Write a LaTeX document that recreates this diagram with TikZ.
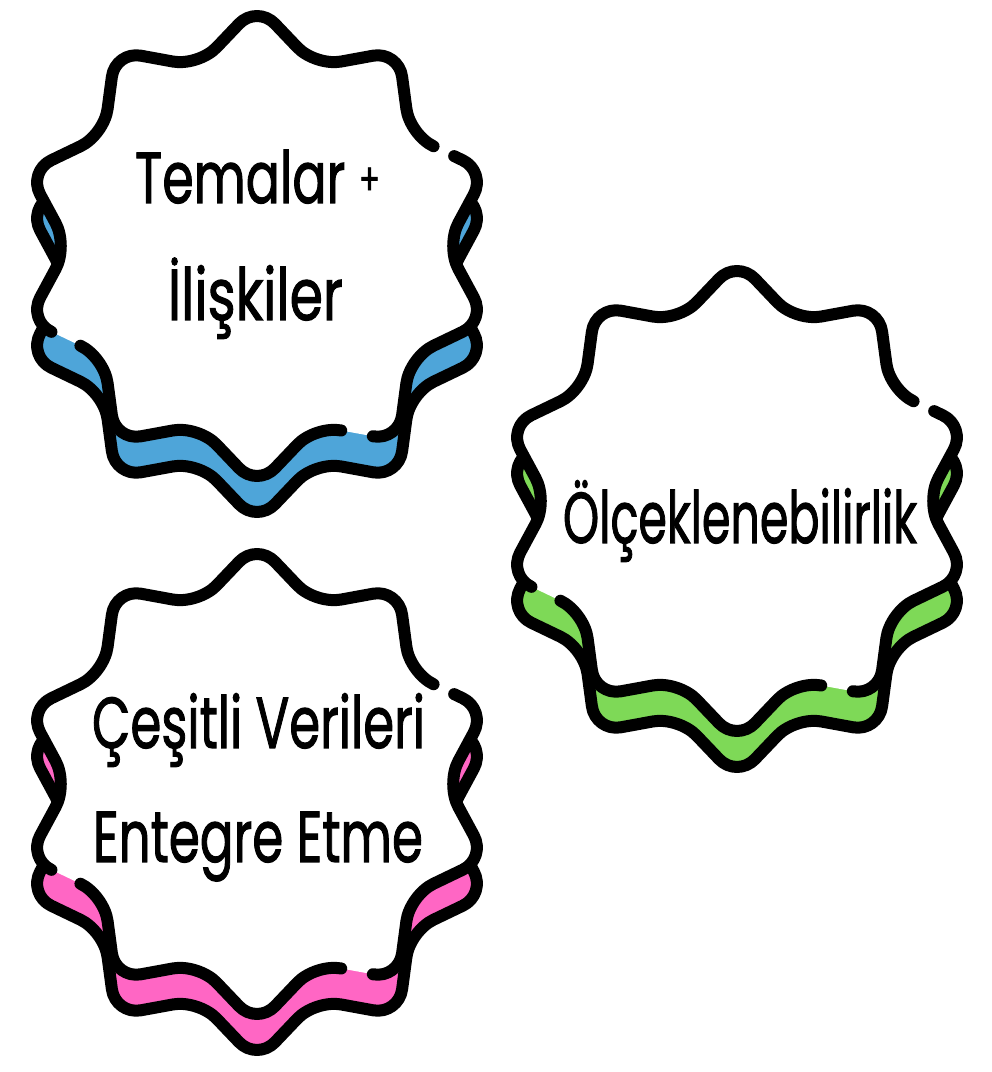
\documentclass[tikz,border=0pt]{standalone}
\usepackage{fontspec}
\usepackage{graphicx}
\setmainfont{Poppins}
\newfontfamily\lblfont{Poppins}[FakeBold=1.6]
\usetikzlibrary{calc}
\definecolor{bblue}{HTML}{4EA5D9}
\definecolor{bgreen}{HTML}{7ED957}
\definecolor{bpink}{HTML}{FF66C4}
\tikzset{
  starshape/.style={rounded corners=26pt, line join=round},
  outl/.style={draw=black, line width=12pt, line cap=round, line join=round, rounded corners=26pt},
  lbl/.style={anchor=base, inner sep=0pt, text=black}
}
\newcommand\fitline[2]{\resizebox{#1}{\height}{\lblfont\fontsize{72}{72}\selectfont #2}}
% #1 name, #2 cx, #3 cy, #4 colour
\newcommand\mkbadge[4]{%
  \begin{scope}[shift={(#2,#3)}]
    \foreach \k in {0,...,19}{%
      \pgfmathsetmacro\rr{mod(\k,2)==1 ? 189 : 241}%
      \coordinate (#1v\k) at ({90-18*\k}:\rr);}
  \end{scope}
  % back copy (extrusion)
  \filldraw[starshape, fill=#4, draw=black, line width=12pt]
    ([yshift=-36pt]#1v0) \foreach \k in {1,...,19}{ -- ([yshift=-36pt]#1v\k)} -- cycle;
  % front face
  \fill[starshape, white] (#1v0) \foreach \k in {1,...,19}{ -- (#1v\k)} -- cycle;
  % front outline with gaps
  \draw[outl] ($(#1v3)!0.58!(#1v4)$) -- (#1v4) -- (#1v5) -- (#1v6) -- (#1v7) -- (#1v8) -- ($(#1v8)!0.31!(#1v9)$);
  \draw[outl] ($(#1v8)!0.69!(#1v9)$) -- (#1v9) -- (#1v10) -- (#1v11) -- (#1v12) -- (#1v13) -- ($(#1v13)!0.31!(#1v14)$);
  \draw[outl] ($(#1v13)!0.69!(#1v14)$) -- (#1v14) -- (#1v15) -- (#1v16) -- (#1v17) -- (#1v18) -- (#1v19) -- (#1v0) -- (#1v1) -- (#1v2) -- (#1v3) -- ($(#1v3)!0.31!(#1v4)$);
}
\begin{document}
\begin{tikzpicture}[x=1pt, y=1pt]
  \useasboundingbox (0,0) rectangle (992,1072);
  \fill[white] (0,0) rectangle (992,1072);
  \mkbadge{a}{257}{826}{bblue}
  \mkbadge{b}{737}{571}{bgreen}
  \mkbadge{c}{257}{288}{bpink}
  \node[lbl] (a1) at (257.5,869) {\fitline{245pt}{Temalar {\fontsize{44}{44}\selectfont\raisebox{8pt}{+}}}};
  \node[lbl] (a2) at (255.5,752) {\fitline{175pt}{İlişkiler}};
  \node[lbl] (b1) at (740,529) {\fitline{354pt}{Ölçeklenebilirlik}};
  \node[lbl] (c1) at (258.5,324) {\fitline{333pt}{Çeşitli Verileri}};
  \node[lbl] (c2) at (258,210) {\fitline{330pt}{Entegre Etme}};
\end{tikzpicture}
\end{document}
